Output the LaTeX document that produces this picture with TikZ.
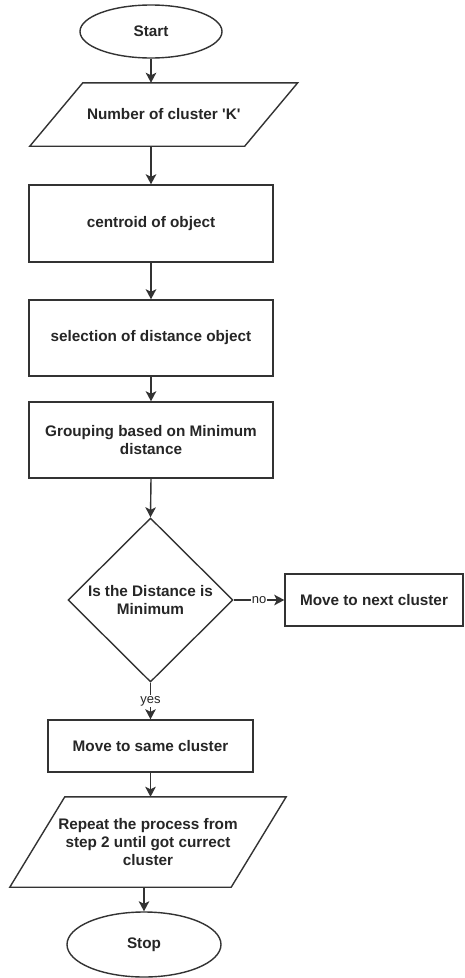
\documentclass[tikz,border=0pt]{standalone}
\usepackage{fontspec}
\setmainfont{Liberation Sans}
\usetikzlibrary{shapes.geometric,arrows.meta}
\definecolor{ink}{HTML}{333333}
\definecolor{txt}{HTML}{262626}
\begin{document}
\begin{tikzpicture}[x=1pt,y=1pt,
  every node/.style={font=\fontsize{15.3}{17.6}\selectfont\bfseries, text=txt, align=center, inner sep=0pt},
  term/.style={ellipse, draw=ink, line width=1.4pt},
  box/.style={rectangle, draw=ink, line width=1.4pt},
  iobody/.style={rectangle, draw=none},
  decision/.style={diamond, aspect=1, draw=ink, line width=1.4pt},
  slant/.style={draw=ink, line width=1.4pt, line join=miter},
  flow/.style={draw=ink, line width=1.4pt, -{Stealth[length=10pt,width=10.5pt,inset=2.5pt,fill=ink]}},
  lbl/.style={font=\fontsize{13}{14}\selectfont, text=txt, fill=white, inner sep=1pt}]
\fill[white] (0,0) rectangle (464,-978);
\useasboundingbox (0,0) rectangle (464,-978);

% terminals, process boxes and the decision
\node[term, minimum width=142pt, minimum height=53pt] (start) at (151,-31.5) {Start};
\node[iobody, minimum width=214.5pt, minimum height=63pt] (kin) at (163.75,-114.5) {Number of cluster \textquotesingle K\textquotesingle};
\node[box, minimum width=244pt, minimum height=77pt] (cent) at (151,-223.5) {centroid of object};
\node[box, minimum width=244pt, minimum height=76pt] (sel) at (151,-338) {selection of distance object};
\node[box, minimum width=244pt, minimum height=76pt] (grp) at (151,-440) {Grouping based on Minimum\\distance};
\node[decision, minimum width=165pt, minimum height=164pt] (dec) at (150.5,-600) {Is the Distance is\\Minimum};
\node[box, minimum width=178pt, minimum height=52pt] (next) at (374,-600) {Move to next cluster};
\node[box, minimum width=205pt, minimum height=52pt] (same) at (150.5,-746) {Move to same cluster};
\node[iobody, minimum width=221pt, minimum height=90pt] (rep) at (148,-842) {Repeat the process from\\step 2 until got currect\\cluster};
\node[term, minimum width=154pt, minimum height=65pt] (stop) at (144,-944.5) {Stop};

% slanted input/output outlines
\draw[slant] ([xshift=26.5pt]kin.north west) -- ([xshift=26.5pt]kin.north east)
  -- ([xshift=-26.5pt]kin.south east) -- ([xshift=-26.5pt]kin.south west) -- cycle;
\draw[slant] ([xshift=27.5pt]rep.north west) -- ([xshift=27.5pt]rep.north east)
  -- ([xshift=-27.5pt]rep.south east) -- ([xshift=-27.5pt]rep.south west) -- cycle;

% connectors
\draw[flow] (start.south) -- (start.south |- kin.north);
\draw[flow] (cent.north |- kin.south) -- (cent.north);
\draw[flow] (cent.south) -- (sel.north);
\draw[flow] (sel.south) -- (grp.north);
\draw[flow] (grp.south) -- (dec.north);
\draw[flow] (dec.east) -- node[lbl] {no} (next.west);
\draw[flow] (dec.south) -- node[lbl] {yes} (same.north);
\draw[flow] (same.south) -- (same.south |- rep.north);
\draw[flow] (stop.north |- rep.south) -- (stop.north);
\end{tikzpicture}
\end{document}
